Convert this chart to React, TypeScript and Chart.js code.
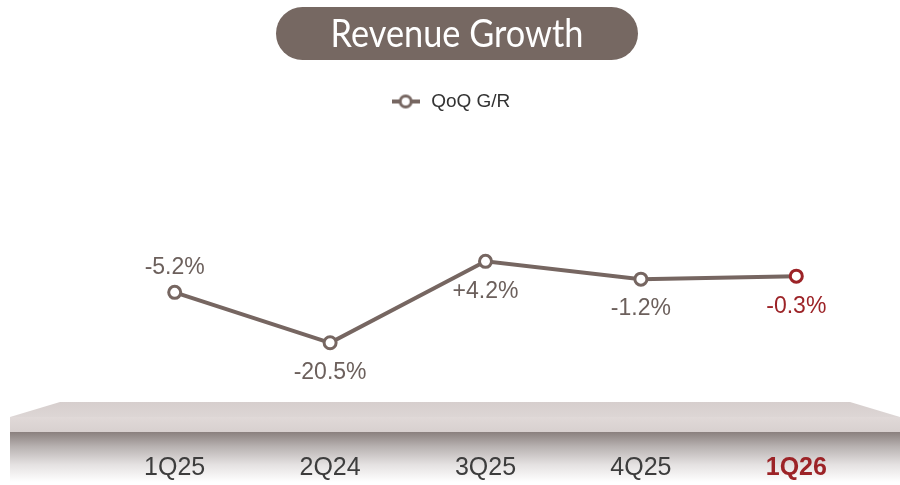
import React, { useEffect, useRef } from 'react';
import { Chart, registerables } from 'chart.js';

Chart.register(...registerables);

const categories = ['1Q25', '2Q24', '3Q25', '4Q25', '1Q26'];
const qoqGrowth = [-5.2, -20.5, 4.2, -1.2, -0.3];
const growthLabels = ['-5.2%', '-20.5%', '+4.2%', '-1.2%', '-0.3%'];
const labelSides = ['above', 'below', 'below', 'below', 'below'];
const seriesName = 'QoQ G/R';
const titleText = 'Revenue Growth';
const highlightIndex = 4;

const LINE = '#766661';
const RED = '#9c2327';
const LABEL = '#6c605c';
const FONT = '"Liberation Sans", Arial, sans-serif';

function makeLegendMarker(): HTMLCanvasElement {
  const c = document.createElement('canvas');
  c.width = 28;
  c.height = 16;
  const ctx = c.getContext('2d')!;
  ctx.strokeStyle = LINE;
  ctx.lineWidth = 4;
  ctx.beginPath();
  ctx.moveTo(0, 8);
  ctx.lineTo(28, 8);
  ctx.stroke();
  ctx.beginPath();
  ctx.arc(14, 8, 5.5, 0, Math.PI * 2);
  ctx.fillStyle = '#ffffff';
  ctx.fill();
  ctx.lineWidth = 3;
  ctx.stroke();
  return c;
}

const platformPlugin = {
  id: 'platform',
  beforeDraw(chart: any) {
    const ctx = chart.ctx as CanvasRenderingContext2D;
    const w = chart.width;
    ctx.save();
    const g = ctx.createLinearGradient(0, 432, 0, 482);
    g.addColorStop(0, '#8a807e');
    g.addColorStop(0.3, '#b9b3b2');
    g.addColorStop(0.65, '#e4e1e1');
    g.addColorStop(1, '#ffffff');
    ctx.fillStyle = g;
    ctx.fillRect(10, 432, w - 10, 53);
    const f = ctx.createLinearGradient(0, 417, 0, 432);
    f.addColorStop(0, '#e0d9d8');
    f.addColorStop(1, '#d8d0cf');
    ctx.fillStyle = f;
    ctx.fillRect(10, 417, w - 10, 15);
    const t = ctx.createLinearGradient(0, 402, 0, 417);
    t.addColorStop(0, '#d6cecd');
    t.addColorStop(1, '#ddd6d5');
    ctx.fillStyle = t;
    ctx.beginPath();
    ctx.moveTo(60, 402);
    ctx.lineTo(850, 402);
    ctx.lineTo(w, 417);
    ctx.lineTo(10, 417);
    ctx.closePath();
    ctx.fill();
    ctx.restore();
  },
};

const titlePlugin = {
  id: 'pillTitle',
  afterDraw(chart: any) {
    const ctx = chart.ctx as CanvasRenderingContext2D;
    const x0 = 276, x1 = 638, y0 = 7, y1 = 60;
    const r = (y1 - y0) / 2;
    ctx.save();
    ctx.fillStyle = '#766862';
    ctx.beginPath();
    ctx.moveTo(x0 + r, y0);
    ctx.lineTo(x1 - r, y0);
    ctx.arc(x1 - r, y0 + r, r, -Math.PI / 2, Math.PI / 2);
    ctx.lineTo(x0 + r, y1);
    ctx.arc(x0 + r, y0 + r, r, Math.PI / 2, Math.PI * 1.5);
    ctx.closePath();
    ctx.fill();
    ctx.font = '38px Lato, "Noto Sans", sans-serif';
    const tw = ctx.measureText(titleText).width;
    const sx = 253 / tw;
    ctx.translate((x0 + x1) / 2, 47);
    ctx.scale(sx, 1);
    ctx.fillStyle = '#ffffff';
    ctx.textAlign = 'center';
    ctx.textBaseline = 'alphabetic';
    ctx.fillText(titleText, 0, 0);
    ctx.restore();
  },
};

const valueLabelPlugin = {
  id: 'valueLabels',
  afterDatasetsDraw(chart: any) {
    const ctx = chart.ctx as CanvasRenderingContext2D;
    const meta = chart.getDatasetMeta(0);
    ctx.save();
    ctx.font = `23px ${FONT}`;
    ctx.textAlign = 'center';
    ctx.textBaseline = 'middle';
    meta.data.forEach((pt: any, i: number) => {
      ctx.fillStyle = i === highlightIndex ? RED : LABEL;
      const dy = labelSides[i] === 'above' ? -25 : 30;
      ctx.fillText(growthLabels[i], pt.x, pt.y + dy);
    });
    ctx.restore();
  },
};

export default function App() {
  const ref = useRef<HTMLCanvasElement | null>(null);

  useEffect(() => {
    document.body.style.margin = '0';
    const marker = makeLegendMarker();
    const pointBorders = categories.map((_, i) => (i === highlightIndex ? RED : LINE));
    const chart = new Chart(ref.current!, {
      type: 'line',
      data: {
        labels: categories,
        datasets: [
          {
            label: seriesName,
            data: qoqGrowth,
            borderColor: LINE,
            backgroundColor: '#ffffff',
            borderWidth: 4,
            pointRadius: 6,
            pointBorderWidth: 3,
            pointBackgroundColor: '#ffffff',
            pointBorderColor: pointBorders,
            tension: 0,
            clip: false as any,
          },
        ],
      },
      options: {
        animation: false,
        responsive: true,
        maintainAspectRatio: false,
        layout: { padding: { top: 82, left: 26, right: 26, bottom: 0 } },
        plugins: {
          title: { display: false },
          tooltip: { enabled: false },
          legend: {
            display: true,
            position: 'top',
            labels: {
              usePointStyle: true,
              pointStyleWidth: 32,
              padding: 10,
              color: '#333333',
              font: { family: FONT, size: 19 },
              generateLabels: (c: any) => {
                const items = Chart.defaults.plugins.legend.labels.generateLabels(c);
                return items.map((it: any) => ({ ...it, pointStyle: marker, fontColor: '#333333' }));
              },
            },
          },
        },
        scales: {
          x: {
            offset: true,
            grid: { display: false, drawTicks: false },
            border: { display: false },
            ticks: {
              padding: 52,
              color: (c: any) => (c.index === highlightIndex ? RED : '#3d3d3d'),
              font: (c: any) => ({
                family: FONT,
                size: 25,
                weight: c.index === highlightIndex ? 'bold' : 'normal',
              }),
            },
            afterFit: (scale: any) => {
              scale.height = 84;
            },
          },
          y: {
            min: -38.15,
            max: 46.75,
            grid: { display: false, drawTicks: false },
            border: { display: false },
            ticks: { display: false },
            afterFit: (scale: any) => {
              scale.width = 71;
            },
          },
        },
      },
      plugins: [platformPlugin, titlePlugin, valueLabelPlugin],
    });
    return () => chart.destroy();
  }, []);

  return (
    <div style={{ position: 'absolute', left: 0, top: 0, width: 900, height: 485 }}>
      <canvas ref={ref} />
    </div>
  );
}
